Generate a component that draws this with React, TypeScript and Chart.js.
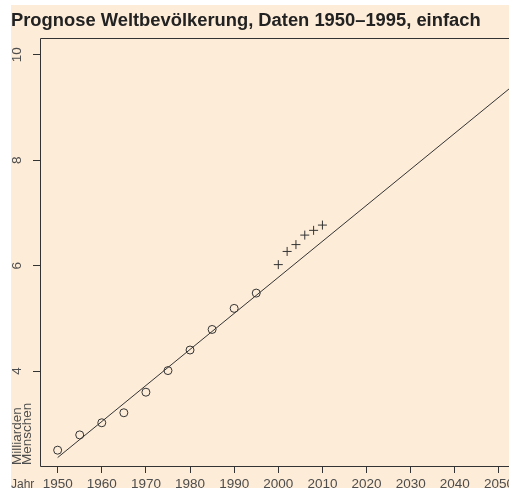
import React, { useEffect, useRef } from "react";
import { Chart, registerables } from "chart.js";

Chart.register(...registerables);

// ---- data ----
const titleText = "Prognose Weltbevölkerung, Daten 1950–1995, einfach";
const histYears = [1950, 1955, 1960, 1965, 1970, 1975, 1980, 1985, 1990, 1995];
const histValues = [2.5, 2.79, 3.02, 3.21, 3.6, 4.01, 4.4, 4.79, 5.19, 5.48];
const newYears = [2000, 2002, 2004, 2006, 2008, 2010];
const newValues = [6.02, 6.27, 6.4, 6.58, 6.67, 6.77];
const trendYears = [1950, 2054];
const trendValues = [2.36, 9.47];
const xTicks = [1950, 1960, 1970, 1980, 1990, 2000, 2010, 2020, 2030, 2040, 2050];
const yTicks = [4, 6, 8, 10];
const xLabel = "Jahr";
const yLabelLines = ["Milliarden", "Menschen"];

const CANVAS_W = 530;
const CANVAS_H = 488;
const INK = "#333333";
const TEXT_GRAY = "#4d4d4d";
const FONT = '"Liberation Sans", Arial, Helvetica, sans-serif';

export default function App() {
  const ref = useRef<HTMLCanvasElement | null>(null);

  useEffect(() => {
    const canvas = ref.current;
    if (!canvas) return;

    const textPlugin = {
      id: "textPlugin",
      afterDraw(chart: any) {
        const ctx = chart.ctx;
        const area = chart.chartArea;
        const xs = chart.scales.x;
        const ys = chart.scales.y;
        ctx.save();
        // box
        ctx.strokeStyle = INK;
        ctx.lineWidth = 1;
        ctx.beginPath();
        ctx.moveTo(CANVAS_W + 5, area.top - 0.5);
        ctx.lineTo(area.left + 0.5, area.top - 0.5);
        ctx.lineTo(area.left + 0.5, area.bottom + 0.5);
        ctx.lineTo(CANVAS_W + 5, area.bottom + 0.5);
        ctx.stroke();

        // title
        ctx.fillStyle = "#222222";
        ctx.font = `bold 18.35px ${FONT}`;
        ctx.textAlign = "left";
        ctx.textBaseline = "alphabetic";
        ctx.fillText(titleText, 11, 26);

        // x tick labels
        ctx.fillStyle = TEXT_GRAY;
        ctx.font = `13.5px ${FONT}`;
        ctx.textAlign = "center";
        xTicks.forEach((v) => {
          ctx.fillText(String(v), xs.getPixelForValue(v), 487.5);
        });
        ctx.textAlign = "left";
        ctx.font = `12px ${FONT}`;
        ctx.fillText(xLabel, 11, 487.5);
        ctx.font = `13.5px ${FONT}`;

        // y tick labels (rotated)
        yTicks.forEach((v) => {
          ctx.save();
          ctx.translate(20.7, ys.getPixelForValue(v));
          ctx.rotate(-Math.PI / 2);
          ctx.textAlign = "center";
          ctx.fillText(String(v), 0, 0);
          ctx.restore();
        });

        // y label lines
        const bx = [21, 31];
        yLabelLines.forEach((t, i) => {
          ctx.save();
          ctx.translate(bx[i], area.bottom - 1);
          ctx.rotate(-Math.PI / 2);
          ctx.textAlign = "left";
          ctx.fillText(t, 0, 0);
          ctx.restore();
        });
        ctx.restore();
      },
    };

    const gridOpts = {
      display: true,
      drawOnChartArea: false,
      drawTicks: true,
      tickLength: 7,
      color: INK,
      lineWidth: 1,
    };

    const chart = new Chart(canvas, {
      type: "scatter",
      data: {
        datasets: [
          {
            type: "line",
            data: trendYears.map((x, i) => ({ x, y: trendValues[i] })),
            borderColor: INK,
            borderWidth: 1,
            pointRadius: 0,
            fill: false,
            showLine: true,
          } as any,
          {
            data: histYears.map((x, i) => ({ x, y: histValues[i] })),
            pointStyle: "circle",
            pointRadius: 4,
            borderColor: INK,
            backgroundColor: "rgba(0,0,0,0)",
            borderWidth: 1,
          },
          {
            data: newYears.map((x, i) => ({ x, y: newValues[i] })),
            pointStyle: "cross",
            pointRadius: 4.5,
            borderColor: INK,
            backgroundColor: "rgba(0,0,0,0)",
            borderWidth: 1,
          },
        ],
      },
      options: {
        animation: false,
        responsive: false,
        devicePixelRatio: 1,
        layout: { padding: { top: 39, left: 0, right: CANVAS_W - 516.6, bottom: 0 } },
        plugins: {
          legend: { display: false },
          tooltip: { enabled: false },
          title: { display: false },
        },
        scales: {
          x: {
            type: "linear",
            min: 1946,
            max: 2054,
            afterBuildTicks: (s: any) => {
              s.ticks = xTicks.map((v) => ({ value: v }));
            },
            afterFit: (s: any) => {
              s.height = 22;
            },
            ticks: { display: false },
            grid: gridOpts,
            border: { display: false },
          },
          y: {
            type: "linear",
            min: 2.2,
            max: 10.3,
            afterBuildTicks: (s: any) => {
              s.ticks = yTicks.map((v) => ({ value: v }));
            },
            afterFit: (s: any) => {
              s.width = 40;
            },
            ticks: { display: false },
            grid: gridOpts,
            border: { display: false },
          },
        },
      } as any,
      plugins: [textPlugin],
    });

    return () => chart.destroy();
  }, []);

  return (
    <div
      style={{
        position: "fixed",
        left: 0,
        top: 0,
        width: 509,
        height: 488,
        overflow: "hidden",
        background: "#ffffff",
      }}
    >
      <div
        style={{
          position: "absolute",
          left: 11,
          top: 5,
          right: 0,
          bottom: 0,
          background: "#fdecd8",
        }}
      />
      <canvas
        ref={ref}
        width={CANVAS_W}
        height={CANVAS_H}
        style={{ position: "absolute", left: 0, top: 0, width: CANVAS_W, height: CANVAS_H }}
      />
    </div>
  );
}
